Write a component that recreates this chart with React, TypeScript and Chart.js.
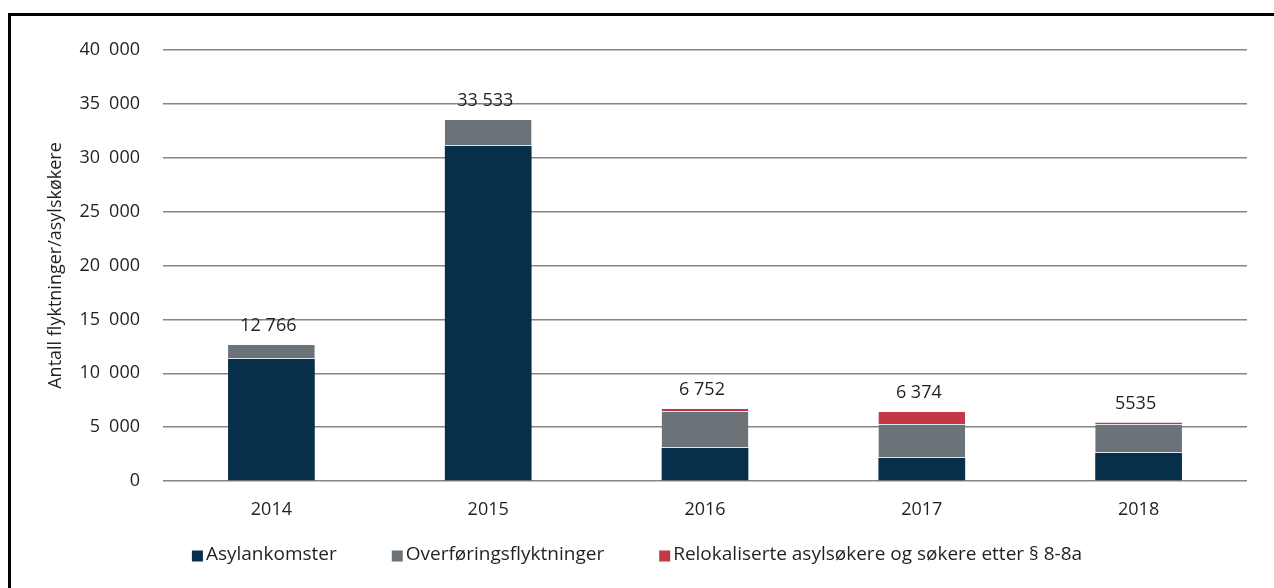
import React, { useEffect, useRef } from "react";
import { Chart, registerables } from "chart.js";

Chart.register(...registerables);

const years = ["2014", "2015", "2016", "2017", "2018"];
const asylankomster = [11320, 31100, 3070, 2140, 2600];
const overforing = [1300, 2400, 3330, 3060, 2600];
const relokaliserte = [0, 0, 280, 1200, 230];
const totalLabels = ["12 766", "33 533", "6 752", "6 374", "5535"];
const seriesNames = [
  "Asylankomster",
  "Overføringsflyktninger",
  "Relokaliserte asylsøkere og søkere etter § 8-8a",
];
const seriesColors = ["#072f4a", "#6b7379", "#c43747"];
const yAxisTitle = "Antall flyktninger/asylskøkere";

const FONT = "'Open Sans', 'DejaVu Sans', sans-serif";
const TEXT = "#231f20";

const fmt = (v: number) =>
  v === 0 ? "0" : String(v).replace(/\B(?=(\d{3})+(?!\d))/g, "\u2002");

const framePlugin = {
  id: "frame",
  beforeDraw(chart: any) {
    const ctx = chart.ctx;
    ctx.save();
    ctx.fillStyle = "#ffffff";
    ctx.fillRect(0, 0, chart.width, chart.height);
    ctx.fillStyle = "#000000";
    ctx.fillRect(8, 13, 3, chart.height - 13);
    ctx.fillRect(8, 13, chart.width - 8, 3);
    ctx.restore();
  },
};

const totalsPlugin = {
  id: "totals",
  afterDatasetsDraw(chart: any) {
    const ctx = chart.ctx;
    const last = chart.getDatasetMeta(chart.data.datasets.length - 1);
    ctx.save();
    ctx.font = `18px ${FONT}`;
    ctx.fillStyle = TEXT;
    ctx.textAlign = "center";
    ctx.textBaseline = "middle";
    last.data.forEach((el: any, i: number) => {
      ctx.fillText(totalLabels[i], el.x - 3, el.y - 19);
    });
    ctx.restore();
  },
};

const legendPlugin = {
  id: "customLegend",
  afterDraw(chart: any) {
    const ctx = chart.ctx;
    ctx.save();
    ctx.font = `19px ${FONT}`;
    ctx.textBaseline = "middle";
    const box = 11;
    const textGap = 3;
    const itemGap = 55;
    const items = chart.data.datasets.map((d: any) => ({
      label: d.label,
      color: d.backgroundColor,
      w: box + textGap + ctx.measureText(d.label).width,
    }));
    const total =
      items.reduce((s: number, it: any) => s + it.w, 0) + itemGap * (items.length - 1);
    let x = (chart.width - total) / 2;
    const y = 555;
    items.forEach((it: any) => {
      ctx.fillStyle = it.color;
      ctx.fillRect(x, y - box / 2 + 1, box, box);
      ctx.fillStyle = TEXT;
      ctx.fillText(it.label, x + box + textGap, y);
      x += it.w + itemGap;
    });
    ctx.restore();
  },
};

export default function App() {
  const ref = useRef<HTMLCanvasElement>(null);

  useEffect(() => {
    if (!ref.current) return;
    const data = [asylankomster, overforing, relokaliserte];
    const chart = new Chart(ref.current, {
      type: "bar",
      data: {
        labels: years,
        datasets: data.map((vals, i) => ({
          label: seriesNames[i],
          data: vals,
          backgroundColor: seriesColors[i],
          borderColor: "rgba(190,205,220,0.5)",
          borderWidth: i === 0 ? 0 : { bottom: 1, top: 0, left: 0, right: 0 },
          borderSkipped: false,
          categoryPercentage: 1,
          barPercentage: 0.4,
        })),
      },
      options: {
        responsive: false,
        animation: false,
        devicePixelRatio: 1,
        layout: { padding: { left: 0, right: 27, top: 50, bottom: 65 } },
        plugins: {
          legend: { display: false },
          tooltip: { enabled: false },
        },
        scales: {
          x: {
            stacked: true,
            grid: { display: false, drawTicks: false },
            border: { display: false },
            ticks: { padding: 18, color: TEXT, font: { family: FONT, size: 18 } },
            afterFit(scale: any) {
              scale.height = 42;
            },
          },
          y: {
            stacked: true,
            min: 0,
            max: 40000,
            grid: { color: "#858585", lineWidth: 1.5, drawTicks: false },
            border: { display: false },
            ticks: {
              stepSize: 5000,
              padding: 23,
              color: TEXT,
              font: { family: FONT, size: 18 },
              callback: (v: any) => fmt(Number(v)),
            },
            title: {
              display: true,
              text: yAxisTitle,
              color: TEXT,
              font: { family: FONT, size: 18 },
              padding: { top: 45, bottom: 0 },
            },
            afterFit(scale: any) {
              scale.width = 163;
            },
          },
        },
      },
      plugins: [framePlugin, totalsPlugin, legendPlugin],
    });
    return () => chart.destroy();
  }, []);

  return (
    <div style={{ position: "fixed", left: 0, top: 0, width: 1274, height: 588 }}>
      <canvas ref={ref} width={1274} height={588} style={{ display: "block" }} />
    </div>
  );
}
